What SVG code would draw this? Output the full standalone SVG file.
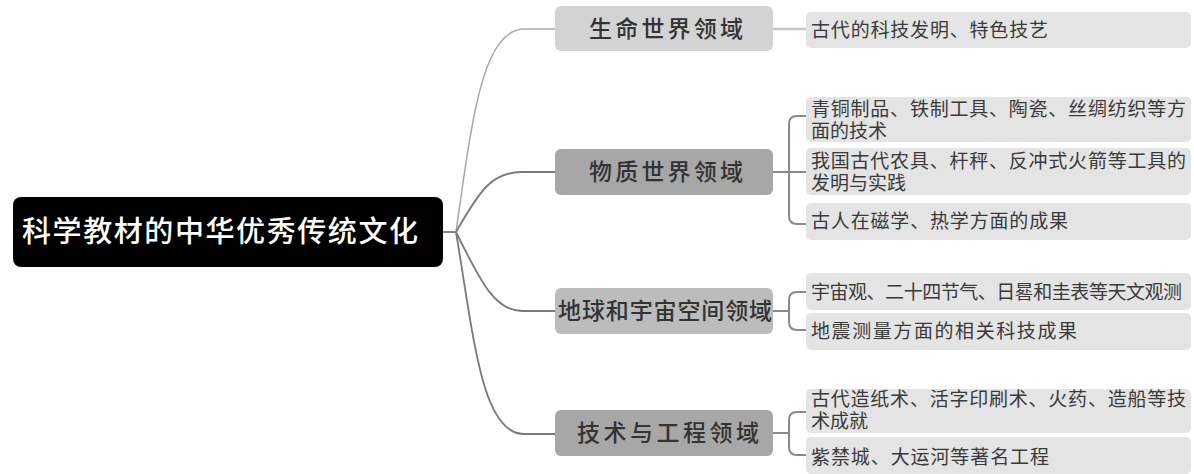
<svg xmlns="http://www.w3.org/2000/svg" width="1194" height="474" viewBox="0 0 1194 474">
<style>
text{font-family:"Noto Sans CJK SC","Noto Sans CJK TC",sans-serif;}
.root{fill:#000;}
.rootT{fill:#fff;font-size:29px;font-weight:500;}
.br{stroke:none;}
.brT{fill:#333;font-size:23px;text-anchor:middle;font-weight:500;}
.leaf{fill:#e4e4e4;}
.leafT{fill:#3a3a3a;font-size:19px;font-family:"Liberation Serif","Noto Sans CJK SC",serif;}
.c{fill:none;stroke:#7a7a7a;stroke-width:1.8;}
.cl{fill:none;stroke:#a8a8a8;stroke-width:1.5;}
.bk{fill:none;stroke:#8a8a8a;stroke-width:2;}
</style>
<rect width="1194" height="474" fill="#fff"/>
<g id="connectors">
<path class="c" d="M443,232 H456"/>
<path class="cl" d="M456,232 C472,120 482,29 525,29 H555"/>
<path class="c" d="M456,232 C480,190 492,172 522,172 H555"/>
<path class="c" d="M456,232 C482,285 496,311 522,311 H555"/>
<path class="c" d="M456,232 C474,340 482,434 524,434 H555"/>
<path class="cl" d="M773,29 H806" style="stroke:#c6c6c6;stroke-width:2.5"/>
<path class="bk" d="M773,172 H806 M806,116 H797 Q789,116 789,124 V216 Q789,224 797,224 H806"/>
<path class="bk" d="M773,311 H789 M806,292 H797 Q789,292 789,300 V322 Q789,330 797,330 H806"/>
<path class="bk" d="M773,433 H789 M806,412 H797 Q789,412 789,420 V447 Q789,455 797,455 H806"/>
</g>
<g id="root">
<rect class="root" x="13" y="197" width="430" height="70" rx="8"/>
<text class="rootT" x="22" y="242" textLength="396" lengthAdjust="spacing">科学教材的中华优秀传统文化</text>
</g>
<g id="b1">
<rect class="br" x="555" y="6" width="218" height="45" rx="6" fill="#d3d3d3"/>
<text class="brT" x="666" y="37" textLength="154" lengthAdjust="spacing">生命世界领域</text>
</g>
<g id="b2">
<rect class="br" x="555" y="149" width="218" height="46" rx="6" fill="#a7a7a7"/>
<text class="brT" x="666" y="180" textLength="154" lengthAdjust="spacing">物质世界领域</text>
</g>
<g id="b3">
<rect class="br" x="555" y="288" width="218" height="46" rx="6" fill="#bcbcbc"/>
<text class="brT" x="665" y="319" textLength="214" lengthAdjust="spacing">地球和宇宙空间领域</text>
</g>
<g id="b4">
<rect class="br" x="555" y="410" width="218" height="46" rx="6" fill="#a7a7a7"/>
<text class="brT" x="668" y="441" textLength="182" lengthAdjust="spacing">技术与工程领域</text>
</g>
<g id="l1">
<rect class="leaf" x="806" y="12" width="385" height="36" rx="5"/>
<text class="leafT" x="811" y="37" textLength="237" lengthAdjust="spacing">古代的科技发明、特色技艺</text>
</g>
<g id="l2a">
<rect class="leaf" x="806" y="97" width="385" height="45" rx="5"/>
<text class="leafT"><tspan x="811" y="116" textLength="375" lengthAdjust="spacing">青铜制品、铁制工具、陶瓷、丝绸纺织等方</tspan><tspan x="811" y="138">面的技术</tspan></text>
</g>
<g id="l2b">
<rect class="leaf" x="806" y="148" width="385" height="47" rx="5"/>
<text class="leafT"><tspan x="811" y="168" textLength="375" lengthAdjust="spacing">我国古代农具、杆秤、反冲式火箭等工具的</tspan><tspan x="811" y="190">发明与实践</tspan></text>
</g>
<g id="l2c">
<rect class="leaf" x="806" y="203" width="385" height="37" rx="5"/>
<text class="leafT" x="811" y="228" textLength="257" lengthAdjust="spacing">古人在磁学、热学方面的成果</text>
</g>
<g id="l3a">
<rect class="leaf" x="806" y="273" width="385" height="37" rx="5"/>
<text class="leafT" x="811" y="299" textLength="371" lengthAdjust="spacing">宇宙观、二十四节气、日晷和圭表等天文观测</text>
</g>
<g id="l3b">
<rect class="leaf" x="806" y="313" width="385" height="37" rx="5"/>
<text class="leafT" x="811" y="338" textLength="266" lengthAdjust="spacing">地震测量方面的相关科技成果</text>
</g>
<g id="l4a">
<rect class="leaf" x="806" y="389" width="385" height="44" rx="5"/>
<text class="leafT"><tspan x="811" y="406" textLength="375" lengthAdjust="spacing">古代造纸术、活字印刷术、火药、造船等技</tspan><tspan x="811" y="428">术成就</tspan></text>
</g>
<g id="l4b">
<rect class="leaf" x="806" y="437" width="385" height="37" rx="5"/>
<text class="leafT" x="811" y="464" textLength="238" lengthAdjust="spacing">紫禁城、大运河等著名工程</text>
</g>
</svg>
